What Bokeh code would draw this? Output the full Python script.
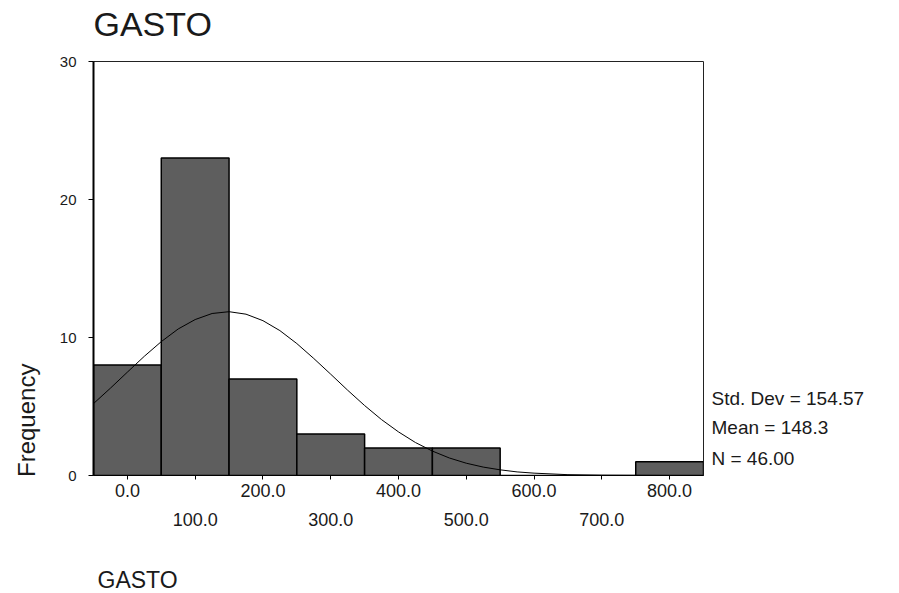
import math
from bokeh.plotting import figure
from bokeh.layouts import column, row
from bokeh.models import LinearAxis, FixedTicker, Range1d
from bokeh.core.properties import value
from bokeh.embed import file_html
from bokeh.resources import INLINE

# ---- data ----
bin_centers = [0, 100, 200, 300, 400, 500, 600, 700, 800]
counts = [8, 23, 7, 3, 2, 2, 0, 0, 1]
bin_width = 100

# fitted normal curve (consistent with Mean=148.3, SD=154.57, N=46)
curve_x = [-50, -25, 0, 25, 50, 75, 100, 125, 150, 175, 200, 225, 250, 275, 300,
           325, 350, 375, 400, 425, 450, 475, 500, 525, 550, 575, 600, 650, 700, 750, 800, 850]
curve_y = [5.21, 6.33, 7.49, 8.64, 9.70, 10.62, 11.30, 11.74, 11.87, 11.69, 11.22, 10.50, 9.56, 8.48, 7.34,
           6.18, 5.07, 4.05, 3.16, 2.39, 1.77, 1.27, 0.89, 0.61, 0.41, 0.26, 0.17, 0.06, 0.02, 0.01, 0.0, 0.0]

y_ticks = [0, 10, 20, 30]
odd_ticks = [100, 300, 500, 700]
tick_text = {0: "0.0", 100: "100.0", 200: "200.0", 300: "300.0", 400: "400.0",
             500: "500.0", 600: "600.0", 700: "700.0", 800: "800.0"}
stats_lines = ["Std. Dev = 154.57", "Mean = 148.3", "N = 46.00"]
title_text = "GASTO"
x_title = "GASTO"
y_title = "Frequency"

FONT = "Liberation Sans"
TXT = "#1a1a1a"

# ---- layout constants (pixels) ----
W, H = 899, 593
TOP_H = 50                 # strip holding the chart title
BOT_H = 40                 # strip holding the x title
LEFT_W = 50                # strip holding the y title
FRAME_L, FRAME_R = 93, 703
MAIN_W = FRAME_R + 2 - LEFT_W
MAIN_H = H - TOP_H - BOT_H
BORDER_TOP = 61 - TOP_H
BORDER_BOT = 118 - BOT_H


def blank(width, height, xr, yr, **kw):
    f = figure(width=width, height=height, x_range=xr, y_range=yr,
               output_backend="svg", toolbar_location=None,
               x_axis_type=None, y_axis_type=None, **kw)
    f.xgrid.visible = False
    f.ygrid.visible = False
    f.outline_line_color = None
    f.background_fill_color = "white"
    f.border_fill_color = "white"
    return f


# ---------- main plot ----------
p = figure(width=MAIN_W, height=MAIN_H,
           x_range=Range1d(-50, 850), y_range=Range1d(0, 30),
           output_backend="svg", toolbar_location=None,
           x_axis_type=None, y_axis_type=None,
           min_border_left=FRAME_L - LEFT_W, min_border_right=2,
           min_border_top=BORDER_TOP, min_border_bottom=BORDER_BOT)
p.xgrid.visible = False
p.ygrid.visible = False
p.outline_line_color = "#222222"
p.outline_line_width = 1
p.background_fill_color = "white"
p.border_fill_color = "white"

yaxis = LinearAxis(ticker=FixedTicker(ticks=y_ticks))
yaxis.axis_line_width = 2
yaxis.axis_line_color = "black"
yaxis.major_tick_out = 5
yaxis.major_tick_in = 0
yaxis.minor_tick_out = 0
yaxis.minor_tick_in = 0
yaxis.major_label_standoff = 12
yaxis.major_label_text_font = FONT
yaxis.major_label_text_font_size = "15px"
yaxis.major_label_text_color = TXT
p.add_layout(yaxis, "left")

row1 = {k: (v if k not in odd_ticks else "") for k, v in tick_text.items()}
xaxis1 = LinearAxis(ticker=FixedTicker(ticks=bin_centers), major_label_overrides=row1)
xaxis1.axis_line_color = "black"
xaxis1.major_tick_out = 4
xaxis1.major_tick_in = 0
xaxis1.minor_tick_out = 0
xaxis1.minor_tick_in = 0
xaxis1.major_label_standoff = 4
xaxis1.major_label_text_font = FONT
xaxis1.major_label_text_font_size = "18px"
xaxis1.major_label_text_color = TXT
p.add_layout(xaxis1, "below")

row2 = {k: tick_text[k] for k in odd_ticks}
xaxis2 = LinearAxis(ticker=FixedTicker(ticks=odd_ticks), major_label_overrides=row2)
xaxis2.axis_line_color = None
xaxis2.major_tick_line_color = None
xaxis2.minor_tick_line_color = None
xaxis2.major_tick_out = 0
xaxis2.major_tick_in = 0
xaxis2.minor_tick_out = 0
xaxis2.major_label_standoff = 13
xaxis2.major_label_text_font = FONT
xaxis2.major_label_text_font_size = "18px"
xaxis2.major_label_text_color = TXT
p.add_layout(xaxis2, "below")

lefts = [c - bin_width / 2 for c in bin_centers]
rights = [c + bin_width / 2 for c in bin_centers]
p.quad(left=lefts, right=rights, top=counts, bottom=0,
       fill_color="#5e5e5e", line_color="black", line_width=1.5)
p.line(curve_x, curve_y, line_color="black", line_width=1)

# ---------- title strip ----------
ft = blank(W, TOP_H, Range1d(0, W), Range1d(0, TOP_H),
           min_border_left=0, min_border_right=0, min_border_top=0, min_border_bottom=0)
ft.text(x=[FRAME_L], y=[TOP_H - 23], text=[title_text], text_font=value(FONT),
        text_font_size="34px", text_color=TXT, text_baseline="middle", text_align="left")

# ---------- y-title strip (left of the axis, shares the y scale) ----------
fl = blank(LEFT_W, MAIN_H, Range1d(0, LEFT_W), p.y_range,
           min_border_left=0, min_border_right=0,
           min_border_top=BORDER_TOP, min_border_bottom=BORDER_BOT)
fl.text(x=[26], y=[4.0], text=[y_title], text_font=value(FONT), angle=math.pi / 2,
        text_font_size="24px", text_color=TXT, text_baseline="middle", text_align="center")

# ---------- statistics strip (right of the frame, shares the y scale) ----------
STATS_W = W - LEFT_W - MAIN_W
fs = blank(STATS_W, MAIN_H, Range1d(0, STATS_W), p.y_range,
           min_border_left=0, min_border_right=0,
           min_border_top=BORDER_TOP, min_border_bottom=BORDER_BOT)
stats_y = [5.6, 3.45, 1.25]   # text positions on the frequency scale
fs.text(x=[6] * len(stats_lines), y=stats_y, text=stats_lines, text_font=value(FONT),
        text_font_size="19px", text_color=TXT, text_baseline="middle", text_align="left")

# ---------- x title strip ----------
fb = blank(W, BOT_H, Range1d(0, W), Range1d(0, BOT_H),
           min_border_left=0, min_border_right=0, min_border_top=0, min_border_bottom=0)
fb.text(x=[97], y=[BOT_H - 26], text=[x_title], text_font=value(FONT),
        text_font_size="23px", text_color=TXT, text_baseline="middle", text_align="left")

layout = column(ft, row(fl, p, fs, spacing=0), fb, spacing=0)
open("out.html", "w").write(file_html(layout, INLINE))
